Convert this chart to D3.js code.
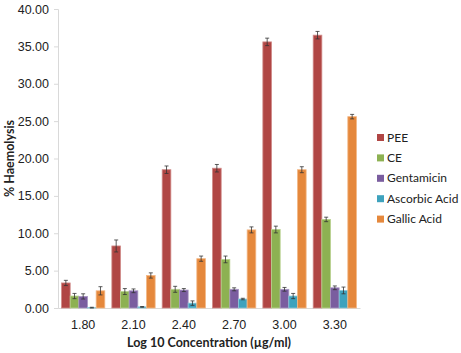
<!DOCTYPE html>
<html>
<head>
<meta charset="utf-8">
<script src="https://cdn.jsdelivr.net/npm/d3@7"></script>
<style>
  body { margin: 0; background: #fff; }
  svg { font-family: Lato, "Open Sans", sans-serif; }
</style>
</head>
<body>
<svg width="461" height="353"></svg>
<script>
// chart data
var concentrations = ["1.80", "2.10", "2.40", "2.70", "3.00", "3.30"];
var seriesNames = ["PEE", "CE", "Gentamicin", "Ascorbic Acid", "Gallic Acid"];
var pee        = [3.35, 8.3, 18.5, 18.7, 35.6, 36.5];
var ce         = [1.6, 2.2, 2.5, 6.5, 10.5, 11.85];
var gentamicin = [1.55, 2.3, 2.4, 2.5, 2.5, 2.7];
var ascorbic   = [0.05, 0.15, 0.65, 1.2, 1.6, 2.35];
var gallic     = [2.3, 4.35, 6.6, 10.45, 18.5, 25.6];
var peeErr        = [0.35, 0.8, 0.5, 0.5, 0.5, 0.5];
var ceErr         = [0.35, 0.4, 0.4, 0.45, 0.45, 0.3];
var gentamicinErr = [0.35, 0.25, 0.2, 0.2, 0.25, 0.25];
var ascorbicErr   = [0.05, 0.05, 0.3, 0.1, 0.35, 0.45];
var gallicErr     = [0.55, 0.35, 0.35, 0.4, 0.4, 0.3];
var yTicks = [0, 5, 10, 15, 20, 25, 30, 35, 40];

var values = [pee, ce, gentamicin, ascorbic, gallic];
var errors = [peeErr, ceErr, gentamicinErr, ascorbicErr, gallicErr];
var fills = ["#b04644", "#8db152", "#7a5d9f", "#3ea2bd", "#e5883c"];
var strokes = ["#d08a88", "#b9d18f", "#a896c2", "#8ac8d9", "#f3b886"];

var svg = d3.select("svg");
var margin = {left: 58, right: 101, top: 9, bottom: 45};
var width = 461 - margin.left - margin.right,
    height = 353 - margin.top - margin.bottom;

var g = svg.append("g")
    .attr("transform", "translate(" + margin.left + "," + margin.top + ")");

var x = d3.scaleBand().domain(concentrations).range([0, width]).paddingInner(0.14).paddingOuter(0.07);
var xs = d3.scaleBand().domain(seriesNames).range([0, x.bandwidth()]);
var y = d3.scaleLinear().domain([0, 40]).range([height, 0]);

// y axis
var yAxis = g.append("g")
    .call(d3.axisLeft(y).tickValues(yTicks).tickFormat(d3.format(".2f")).tickSize(4).tickPadding(5));
yAxis.selectAll("path, line").attr("stroke", "#d9d9d9");
yAxis.selectAll("text").attr("font-size", 12.5).attr("fill", "#222");

// x axis
var xAxis = g.append("g")
    .attr("transform", "translate(0," + height + ")")
    .call(d3.axisBottom(x).tickSize(0).tickPadding(12));
xAxis.select("path").attr("stroke", "#d9d9d9");
xAxis.selectAll("text").attr("font-size", 12.5).attr("fill", "#222");

// bars
var rows = [];
concentrations.forEach(function(c, i) {
  seriesNames.forEach(function(s, j) {
    rows.push({c: c, s: s, j: j, v: values[j][i], e: errors[j][i]});
  });
});

g.selectAll("rect.bar")
  .data(rows)
  .enter().append("rect")
    .attr("class", "bar")
    .attr("x", function(d) { return x(d.c) + xs(d.s); })
    .attr("y", function(d) { return y(d.v); })
    .attr("width", xs.bandwidth())
    .attr("height", function(d) { return height - y(d.v); })
    .attr("fill", function(d) { return fills[d.j]; })
    .attr("stroke", function(d) { return strokes[d.j]; })
    .attr("stroke-width", 0.8);

// error bars
function cx(d) { return x(d.c) + xs(d.s) + xs.bandwidth() / 2; }
var eb = g.selectAll("g.err")
  .data(rows)
  .enter().append("g")
    .attr("class", "err")
    .attr("stroke", "#333")
    .attr("stroke-width", 0.8);
eb.append("line")
    .attr("x1", cx).attr("x2", cx)
    .attr("y1", function(d) { return y(d.v + d.e); })
    .attr("y2", function(d) { return y(Math.max(0, d.v - d.e)); });
eb.append("line")
    .attr("x1", function(d) { return cx(d) - 2; })
    .attr("x2", function(d) { return cx(d) + 2; })
    .attr("y1", function(d) { return y(d.v + d.e); })
    .attr("y2", function(d) { return y(d.v + d.e); });
eb.append("line")
    .attr("x1", function(d) { return cx(d) - 2; })
    .attr("x2", function(d) { return cx(d) + 2; })
    .attr("y1", function(d) { return y(Math.max(0, d.v - d.e)); })
    .attr("y2", function(d) { return y(Math.max(0, d.v - d.e)); });

// axis titles
svg.append("text")
    .attr("x", margin.left + width / 2)
    .attr("y", 347)
    .attr("text-anchor", "middle")
    .attr("font-size", 12.5)
    .attr("font-weight", "bold")
    .attr("fill", "#222")
    .text("Log 10 Concentration (µg/ml)");

svg.append("text")
    .attr("transform", "translate(14," + (margin.top + height / 2) + ") rotate(-90)")
    .attr("text-anchor", "middle")
    .attr("font-size", 12.5)
    .attr("font-weight", "bold")
    .attr("fill", "#222")
    .text("% Haemolysis");

// legend
var legend = svg.append("g")
    .attr("transform", "translate(377,132)");
var item = legend.selectAll("g")
  .data(seriesNames)
  .enter().append("g")
    .attr("transform", function(d, i) { return "translate(0," + i * 20.4 + ")"; });
item.append("rect")
    .attr("width", 7).attr("height", 7)
    .attr("y", 2)
    .attr("fill", function(d, i) { return fills[i]; });
item.append("text")
    .attr("x", 10).attr("y", 9.5)
    .attr("font-size", 12)
    .attr("fill", "#222")
    .text(function(d) { return d; });
</script>
</body>
</html>
